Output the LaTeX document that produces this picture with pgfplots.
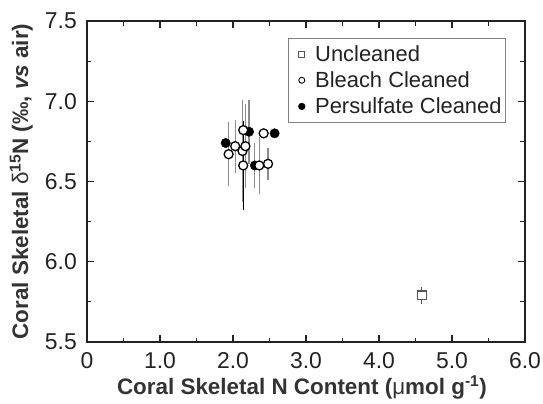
\documentclass[border=0pt]{standalone}
\usepackage{fontspec}
\setmainfont{Liberation Sans}
\usepackage{pgfplots}
\pgfplotsset{compat=1.18}
\definecolor{axc}{HTML}{222222}
\definecolor{labc}{HTML}{333333}
\definecolor{barc}{HTML}{8C8C8C}
\definecolor{sqc}{HTML}{555555}
\begin{document}
\begin{tikzpicture}
\begin{axis}[
 at={(0,0)}, anchor=south west,
 scale only axis, width=438bp, height=321bp,
 xmin=0, xmax=6, ymin=5.5, ymax=7.5,
 xtick={0,1,2,3,4,5,6}, xticklabels={0,1.0,2.0,3.0,4.0,5.0,6.0},
 ytick={5.5,6.0,6.5,7.0,7.5}, yticklabels={5.5,6.0,6.5,7.0,7.5},
 minor x tick num=1, minor y tick num=1,
 tick align=inside, tick pos=both, xticklabel pos=bottom, yticklabel pos=left,
 major tick length=7bp, minor tick length=4.5bp,
 axis line style={axc, line width=1.3pt},
 every tick/.style={axc, line width=1.1pt},
 ticklabel style={font=\fontsize{23}{26}\selectfont, text=axc, inner sep=0pt},
 yticklabel style={anchor=east, xshift=-10bp},
 xticklabel style={anchor=base, yshift=-26bp},
 xlabel={Coral Skeletal N Content ({\mdseries μ}mol g\textsuperscript{-1})},
 ylabel={Coral Skeletal {\mdseries δ}\textsuperscript{15}N (‰, \textit{vs} air)},
 every axis x label/.style={at={(axis description cs:0.5,0)}, anchor=base, yshift=-52bp, xshift=-4bp,
   font=\bfseries\fontsize{22.5}{26}\selectfont, text=labc, inner sep=0pt},
 every axis y label/.style={at={(axis description cs:0,0.5)}, rotate=90, anchor=south, yshift=54bp,
   font=\bfseries\fontsize{22.5}{26}\selectfont, text=labc, inner sep=0pt},
 legend style={at={(0.4589,0.947)}, anchor=north west, draw=gray, line width=0.8pt,
   font=\fontsize{22}{26}\selectfont, text=axc, inner xsep=2bp, inner ysep=5bp, row sep=4.8bp},
 legend cell align=left,
 legend image code/.code={\path (0,0) (22bp,0); \draw[#1] plot coordinates {(11bp,0)};},
]
% error bars
\addplot[forget plot, draw=none, mark=none, error bars/.cd, y dir=both, y explicit,
  error bar style={barc, line width=1.2pt}, error mark=none] coordinates {
 (1.94,6.67) +- (0,0.20)
 (2.03,6.72) +- (0,0.165)
 (2.13,6.69) +- (0,0.32)
 (2.17,6.72) +- (0,0.26)
 (2.36,6.60) +- (0,0.18)
 (2.48,6.61) +- (0,0.10)
 (2.22,6.81) +- (0,0.20)
 (2.30,6.60) +- (0,0.14)
};
\addplot[forget plot, draw=none, mark=none, error bars/.cd, y dir=both, y explicit,
  error bar style={black, line width=1pt}, error mark=none] coordinates {
 (2.14,6.60) +- (0,0.28)
};
\addplot[forget plot, draw=none, mark=none, error bars/.cd, y dir=both, y explicit,
  error bar style={sqc, line width=1pt}, error mark=none] coordinates {
 (4.585,5.79) +- (0,0.054)
};
% uncleaned
\addplot[forget plot, only marks, mark=square*, mark size=4.4bp,
  mark options={fill=white, draw=sqc, line width=1.2pt}] coordinates {(4.585,5.79)};
% persulfate
\addplot[forget plot, only marks, mark=*, mark size=4.7bp,
  mark options={fill=black, draw=black}] coordinates {
 (1.90,6.74) (2.22,6.81) (2.30,6.60) (2.57,6.80)};
% bleach
\addplot[forget plot, only marks, mark=*, mark size=4.5bp,
  mark options={fill=white, draw=black, line width=1.3pt}] coordinates {
 (1.94,6.67) (2.03,6.72) (2.13,6.69) (2.14,6.82) (2.17,6.72) (2.14,6.60)
 (2.36,6.60) (2.42,6.80) (2.48,6.61)};
\addlegendimage{only marks, mark=square*, mark size=3bp, mark options={fill=white, draw=sqc, line width=0.9pt}}
\addlegendentry{Uncleaned}
\addlegendimage{only marks, mark=*, mark size=3bp, mark options={fill=white, draw=black, line width=0.9pt}}
\addlegendentry{Bleach Cleaned}
\addlegendimage{only marks, mark=*, mark size=3.2bp, mark options={fill=black, draw=black}}
\addlegendentry{Persulfate Cleaned}
\end{axis}
\pgfresetboundingbox
\path[use as bounding box] (-87bp,-62bp) rectangle (456bp,342bp);
\end{tikzpicture}
\end{document}
